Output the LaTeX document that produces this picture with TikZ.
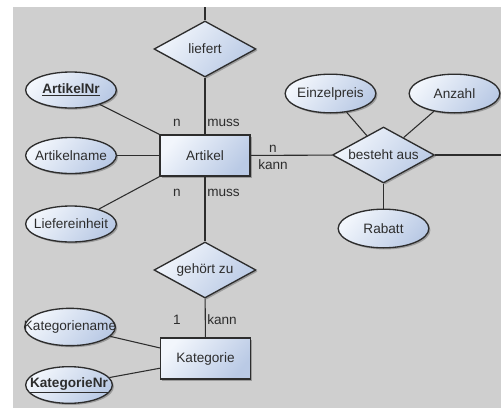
\documentclass[tikz,border=0pt]{standalone}
\usepackage{fontspec}
\setmainfont{Liberation Sans}
\usetikzlibrary{shapes.geometric,shadows,calc}
\definecolor{bg}{RGB}{207,207,207}
\definecolor{ln}{RGB}{45,45,45}
\definecolor{fa}{RGB}{242,246,252}
\definecolor{fb}{RGB}{186,202,229}
\newcommand{\zb}[1]{\makebox[0pt][c]{#1}}
\begin{document}
\begin{tikzpicture}[x=0.75pt,y=-0.75pt,
  every node/.style={font=\fontsize{10.2}{12}\selectfont, text=ln},
  shp/.style={draw=ln, line width=1pt, top color=fa, bottom color=fb, shading angle=50,
    drop shadow={shadow xshift=1.2pt, shadow yshift=-1.2pt, opacity=0.25, fill=black}},
  ent/.style={shp, rectangle, inner sep=0pt, minimum width=67.5pt, minimum height=30.75pt},
  rel/.style={shp, diamond, aspect=1.82, inner sep=0pt, minimum width=76.5pt, minimum height=42pt},
  attr/.style={shp, ellipse, inner sep=0pt, minimum width=68pt, minimum height=27pt},
  conn/.style={draw=ln, line width=0.8pt},
  lbl/.style={inner sep=0pt}]
\useasboundingbox (0,0) rectangle (501,408);
\fill[bg] (13,7) rectangle (501,408);

% entities
\node[ent] (artikel) at (205,155.5) {Artikel};
\node[ent] (kategorie) at (205.5,358.5) {Kategorie};

% relationships
\node[rel] (liefert) at (205,49) {liefert};
\node[rel] (gehoert) at (205,270) {gehört zu};
\node[rel] (besteht) at (383.5,155) {besteht aus};

% attributes
\node[attr] (artnr) at (71,90) {\zb{\underline{\textbf{ArtikelNr}}}};
\node[attr] (artname) at (71,155.5) {\zb{Artikelname}};
\node[attr] (liefer) at (71,224) {\zb{Liefereinheit}};
\node[attr, minimum height=28pt] (katname) at (70,327) {\zb{Kategoriename}};
\node[attr, minimum width=65pt, minimum height=27.5pt] (katnr) at (69,385) {\zb{\underline{\textbf{KategorieNr}}}};
\node[attr, minimum height=29pt] (einzel) at (330.5,93.5) {\zb{Einzelpreis}};
\node[attr, minimum height=29pt] (anzahl) at (454.5,93.5) {\zb{Anzahl}};
\node[attr, minimum height=29pt] (rabatt) at (383.5,228.5) {\zb{Rabatt}};

% free ends
\coordinate (topend) at (205,7);
\coordinate (rightend) at (501,155);

% connectors
\draw[conn] (liefert) -- (topend);
\draw[conn] (liefert) -- (artikel);
\draw[conn] (artikel) -- (gehoert);
\draw[conn] (gehoert) -- (kategorie);
\draw[conn] (artikel) -- (besteht);
\draw[conn] (besteht) -- (rightend);
\draw[conn] (artnr) -- (artikel.north west);
\draw[conn] (artname) -- (artikel);
\draw[conn] (liefer) -- (artikel.south west);
\draw[conn] (katname) -- ($(kategorie.north west)!0.25!(kategorie.south west)$);
\draw[conn] (katnr) -- ($(kategorie.north west)!0.73!(kategorie.south west)$);
\draw[conn] (einzel) -- (besteht);
\draw[conn] (anzahl) -- (besteht);
\draw[conn] (rabatt) -- (besteht);

% cardinality labels
\node[lbl] (l1) at (177,123) {n};
\node[lbl, anchor=west] (l2) at (207,123) {muss};
\node[lbl] (l3) at (177,193) {n};
\node[lbl, anchor=west] (l4) at (207,193) {muss};
\node[lbl] (l5) at (273,149) {n};
\node[lbl] (l6) at (273,165) {kann};
\node[lbl] (l7) at (177,320) {1};
\node[lbl, anchor=west] (l8) at (207,320) {kann};
\end{tikzpicture}
\end{document}
